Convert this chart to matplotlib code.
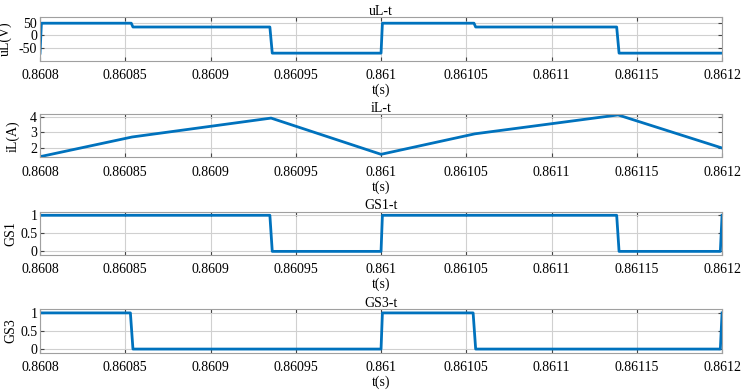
import matplotlib
import matplotlib.pyplot as plt

matplotlib.use('Agg')

plt.rcParams['font.family'] = ['Liberation Serif', 'DejaVu Serif']
plt.rcParams['font.size'] = 10

# tempo (s) e valores
t_uL = [0.8608, 0.8608008, 0.8608535, 0.8608545, 0.8609348, 0.8609362,
        0.8610, 0.8610008, 0.8610545, 0.8610555, 0.8611382, 0.8611396, 0.8612]
uL = [-70, 48, 48, 33, 33, -70, -70, 48, 48, 33, 33, -70, -70]

t_iL = [0.8608, 0.8608540, 0.8609355, 0.8610, 0.8610550, 0.8611390, 0.8612]
iL = [1.45, 2.7, 3.9, 1.6, 2.9, 4.1, 2.0]

t_gs1 = [0.8608, 0.8609348, 0.8609362, 0.8610, 0.8610008, 0.8611382,
         0.8611396, 0.8611990, 0.8612]
gs1 = [1, 1, 0, 0, 1, 1, 0, 0, 1]

t_gs3 = [0.8608, 0.8608530, 0.8608545, 0.8610, 0.8610008, 0.8610540,
         0.8610555, 0.8611990, 0.8612]
gs3 = [1, 1, 0, 0, 1, 1, 0, 0, 1]

xticks = [0.8608, 0.86085, 0.8609, 0.86095, 0.861, 0.86105, 0.8611, 0.86115, 0.8612]
xticklabels = ['0.8608', '0.86085', '0.8609', '0.86095', '0.861',
               '0.86105', '0.8611', '0.86115', '0.8612']

paineis = [
    (t_uL, uL, 'uL-t', 'uL(V)', (-100, 71), [-50, 0, 50], ['-50', '0', '50']),
    (t_iL, iL, 'iL-t', 'iL(A)', (1.41, 4.14), [2, 3, 4], ['2', '3', '4']),
    (t_gs1, gs1, 'GS1-t', 'GS1', (-0.1, 1.1), [0, 0.5, 1], ['0', '0.5', '1']),
    (t_gs3, gs3, 'GS3-t', 'GS3', (-0.1, 1.1), [0, 0.5, 1], ['0', '0.5', '1']),
]
posicoes = [
    [0.0538, 0.845, 0.9167, 0.1107],
    [0.0538, 0.5987, 0.9167, 0.1097],
    [0.0538, 0.3495, 0.9167, 0.1105],
    [0.0538, 0.1003, 0.9167, 0.1107],
]
# posição x do rótulo do eixo y (em pixels da figura)
ylabel_px = [12, 20, 17, 17]

fig = plt.figure(figsize=(7.44, 3.92), dpi=100)

for (t, y, titulo, ylab, ylim, yt, ytl), pos, lx in zip(paineis, posicoes, ylabel_px):
    ax = fig.add_axes(pos)
    ax.plot(t, y, color='#0072BD', linewidth=2)
    ax.set_xlim(0.8608, 0.8612)
    ax.set_ylim(*ylim)
    ax.set_xticks(xticks)
    ax.set_xticklabels(xticklabels)
    ax.set_yticks(yt)
    ax.set_yticklabels(ytl)
    ax.grid(True, color='#d0d0d0', linewidth=0.8)
    ax.tick_params(direction='in', top=True, right=True, length=3,
                   color='#444444', labelsize=10)
    ax.tick_params(axis='x', pad=6)
    ax.tick_params(axis='y', pad=2)
    for s in ax.spines.values():
        s.set_color('#a0a0a0')
        s.set_linewidth(0.8)
    ax.set_title(titulo, fontsize=10, pad=2)
    ax.set_xlabel('t(s)', fontsize=10, labelpad=1)
    ax.set_ylabel(ylab, fontsize=10)
    ax.yaxis.set_label_coords((lx - 40) / 682, 0.5)

fig.savefig('out.png', dpi=100)
